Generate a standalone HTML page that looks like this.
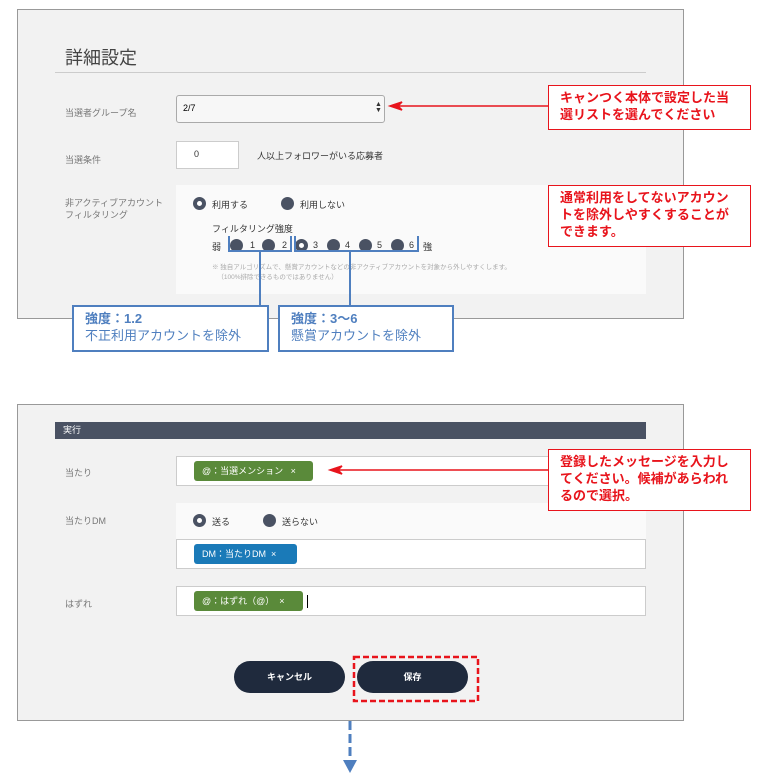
<!DOCTYPE html>
<html><head><meta charset="utf-8"><style>
*{margin:0;padding:0;box-sizing:border-box}
body{width:766px;height:777px;background:#fff;position:relative;overflow:hidden;font-family:"Liberation Sans","Noto Sans CJK JP",sans-serif;color:#333}
.a{position:absolute}
.panel{background:#f2f2f2;border:1px solid #999}
.lbl{font-size:9px;color:#777}
.box{background:#fff;border:1px solid #ccc}
.red{border:1.5px solid #e8141c;background:#fff;color:#e8141c;font-size:13px;line-height:17px;padding:3px 0 0 11px;font-weight:bold}
.blue{border:2px solid #4f7fbf;background:#fff;color:#4f7fbf;font-size:13px;line-height:17px;padding:3px 0 0 11px}
.rad{width:13px;height:13px;border-radius:50%;background:#4a5263}
.rad.on{background:#fff;border:4px solid #4a5263}
.t{font-size:9px;color:#333}
.tag{color:#fff;font-size:9px;border-radius:3px;padding:0 0 0 8px;line-height:20px;height:20px}
.btn{background:#1f2a3d;color:#fff;border-radius:16px;font-size:9px;font-weight:bold;text-align:center;line-height:32px;height:32px}
</style></head><body>
<div class="a panel" style="left:17px;top:9px;width:667px;height:310px"></div>
<div class="a" style="left:65px;top:44px;font-size:18px;color:#444">詳細設定</div>
<div class="a" style="left:55px;top:72px;width:591px;height:1px;background:#ccc"></div>
<div class="a lbl" style="left:65px;top:106px">当選者グループ名</div>
<div class="a" style="left:176px;top:95px;width:209px;height:28px;background:#f7f7f7;border:1px solid #aaa;border-radius:3px"></div>
<div class="a" style="left:183px;top:103px;font-size:9px;color:#000">2/7</div>
<div class="a" style="left:375px;top:102px;font-size:7px;line-height:6px;color:#333">▲<br>▼</div>
<div class="a lbl" style="left:65px;top:153px">当選条件</div>
<div class="a box" style="left:176px;top:141px;width:63px;height:28px"></div>
<div class="a" style="left:194px;top:149px;font-size:9px">0</div>
<div class="a t" style="left:257px;top:149px">人以上フォロワーがいる応募者</div>
<div class="a lbl" style="left:65px;top:197px;line-height:12px">非アクティブアカウント<br>フィルタリング</div>
<div class="a" style="left:176px;top:185px;width:470px;height:109px;background:#fafafa"></div>
<div class="a rad on" style="left:193px;top:197px"></div><div class="a t" style="left:212px;top:198px">利用する</div>
<div class="a rad" style="left:281px;top:197px"></div><div class="a t" style="left:300px;top:198px">利用しない</div>
<div class="a t" style="left:212px;top:222px">フィルタリング強度</div>
<div class="a t" style="left:212px;top:240px">弱</div>
<div class="a rad" style="left:230px;top:239px"></div><div class="a t" style="left:250px;top:240px">1</div>
<div class="a rad" style="left:262px;top:239px"></div><div class="a t" style="left:282px;top:240px">2</div>
<div class="a rad on" style="left:295px;top:239px"></div><div class="a t" style="left:313px;top:240px">3</div>
<div class="a rad" style="left:327px;top:239px"></div><div class="a t" style="left:345px;top:240px">4</div>
<div class="a rad" style="left:359px;top:239px"></div><div class="a t" style="left:377px;top:240px">5</div>
<div class="a rad" style="left:391px;top:239px"></div><div class="a t" style="left:409px;top:240px">6</div>
<div class="a t" style="left:423px;top:240px">強</div>
<div class="a" style="left:212px;top:263px;font-size:6.5px;color:#aaa;line-height:10px">※ 独自アルゴリズムで、懸賞アカウントなどの非アクティブアカウントを対象から外しやすくします。<br>&nbsp;&nbsp;&nbsp;（100%排除できるものではありません）</div>

<div class="a panel" style="left:17px;top:404px;width:667px;height:317px"></div>
<div class="a" style="left:55px;top:422px;width:591px;height:17px;background:#4a5263;color:#fff;font-size:9px;line-height:17px;padding-left:8px">実行</div>
<div class="a lbl" style="left:65px;top:466px">当たり</div>
<div class="a box" style="left:176px;top:456px;width:470px;height:30px"></div>
<div class="a tag" style="left:194px;top:461px;width:119px;background:#5a8a3a">@：当選メンション&nbsp;&nbsp;&nbsp;×</div>
<div class="a lbl" style="left:65px;top:514px">当たりDM</div>
<div class="a" style="left:176px;top:503px;width:470px;height:36px;background:#fafafa"></div>
<div class="a rad on" style="left:193px;top:514px"></div><div class="a t" style="left:212px;top:515px">送る</div>
<div class="a rad" style="left:263px;top:514px"></div><div class="a t" style="left:282px;top:515px">送らない</div>
<div class="a box" style="left:176px;top:539px;width:470px;height:30px"></div>
<div class="a tag" style="left:194px;top:544px;width:103px;background:#1a7ab8">DM：当たりDM&nbsp;&nbsp;×</div>
<div class="a lbl" style="left:65px;top:597px">はずれ</div>
<div class="a box" style="left:176px;top:586px;width:470px;height:30px"></div>
<div class="a tag" style="left:194px;top:591px;width:109px;background:#5a8a3a">@：はずれ（@）&nbsp;&nbsp;×</div>
<div class="a" style="left:307px;top:595px;width:1px;height:13px;background:#000"></div>
<div class="a btn" style="left:234px;top:661px;width:111px">キャンセル</div>
<div class="a btn" style="left:357px;top:661px;width:111px">保存</div>

<svg class="a" style="left:0;top:0" width="766" height="777">
<g stroke="#4f7fbf" stroke-width="2" fill="none">
<path d="M229 236V251H291V236"/><path d="M295 236V251H418V236"/>
<path d="M260 251V305"/><path d="M350 251V305"/>
<path d="M350 721V762" stroke-width="3" stroke-dasharray="9 4"/>
</g>
<path d="M343 760L350 773L357 760Z" fill="#4f7fbf"/>
<g stroke="#e8141c" stroke-width="1.5" fill="#e8141c">
<path d="M398 106H548"/><path d="M390 106L402 102L398 106L402 110Z"/>
<path d="M338 470H548"/><path d="M330 470L342 466L338 470L342 474Z"/>
</g>
<rect x="354" y="657" width="124" height="44" fill="none" stroke="#e8141c" stroke-width="2.5" stroke-dasharray="6 3"/>
</svg>
<div class="a red" style="left:548px;top:85px;width:203px;height:45px">キャンつく本体で設定した当<br>選リストを選んでください</div>
<div class="a red" style="left:548px;top:185px;width:203px;height:62px">通常利用をしてないアカウン<br>トを除外しやすくすることが<br>できます。</div>
<div class="a red" style="left:548px;top:449px;width:203px;height:62px">登録したメッセージを入力し<br>てください。候補があらわれ<br>るので選択。</div>
<div class="a blue" style="left:72px;top:305px;width:197px;height:47px"><b>強度：1.2</b><br>不正利用アカウントを除外</div>
<div class="a blue" style="left:278px;top:305px;width:176px;height:47px"><b>強度：3〜6</b><br>懸賞アカウントを除外</div>
</body></html>
